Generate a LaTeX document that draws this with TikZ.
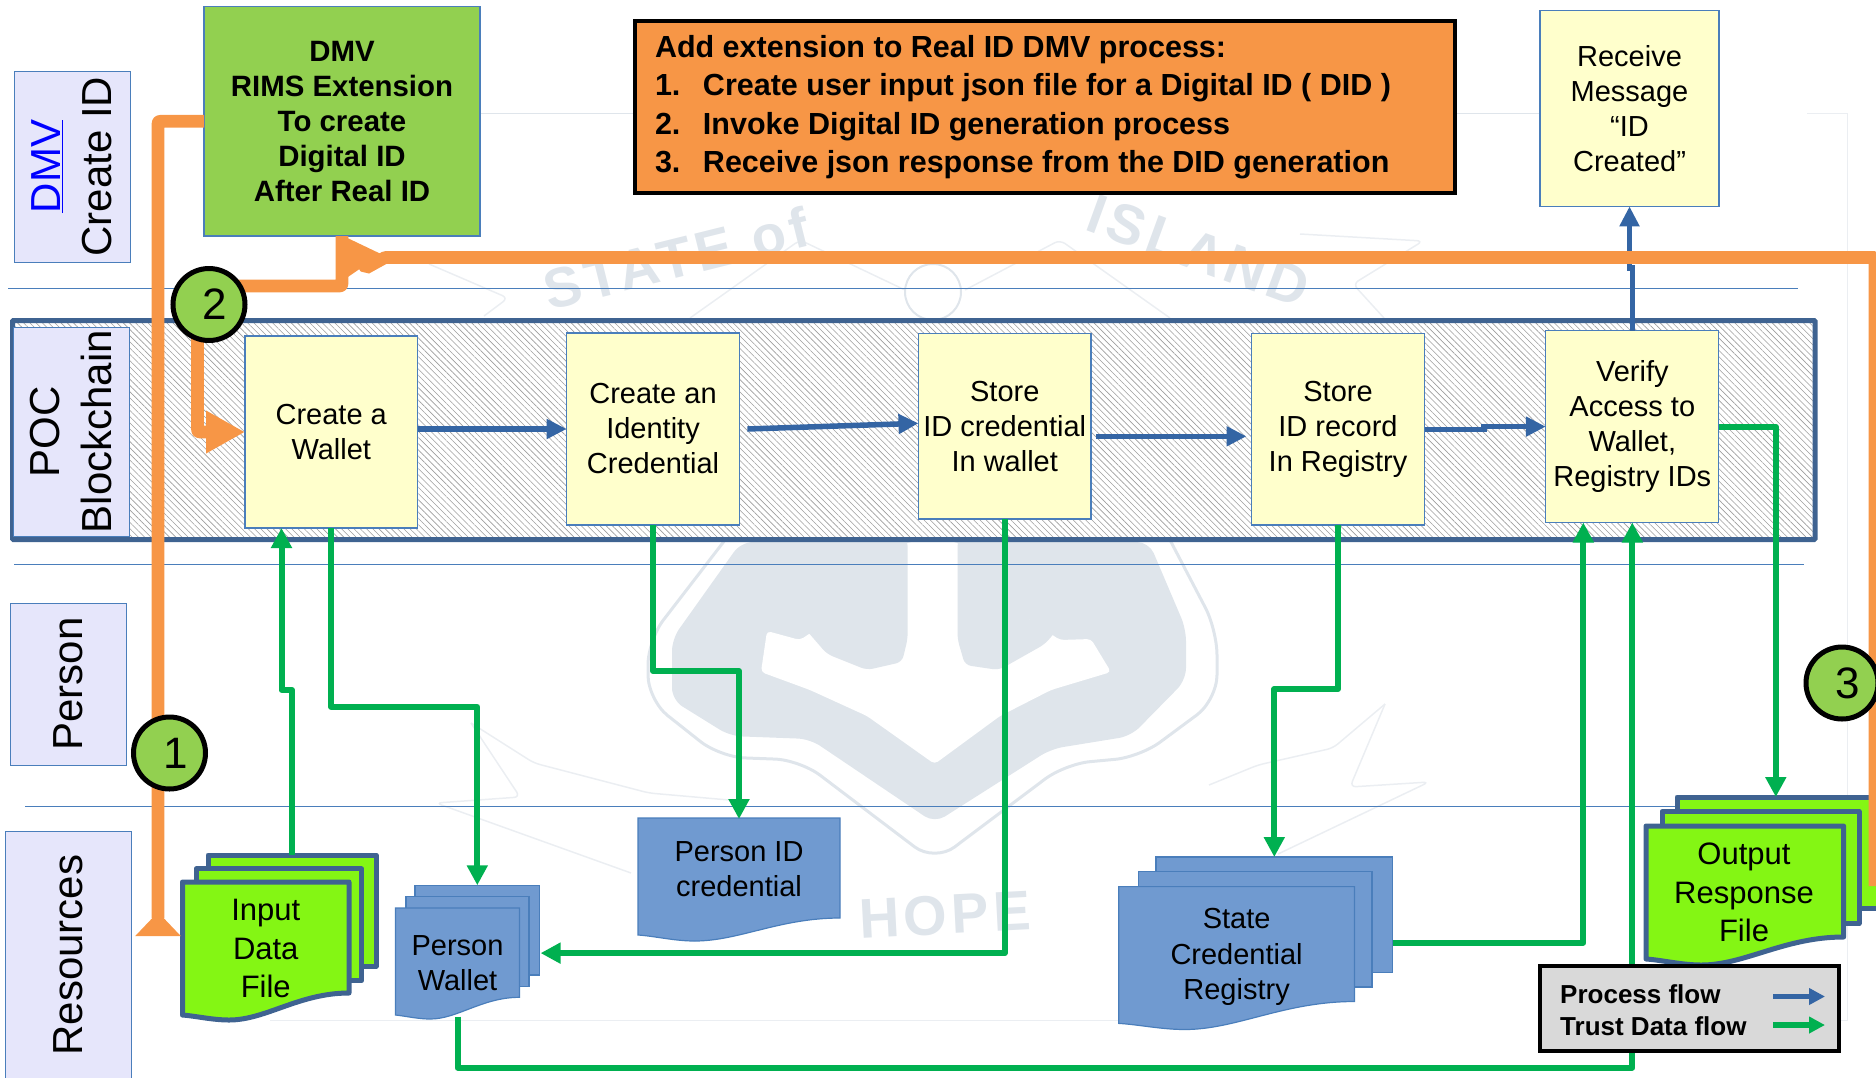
\documentclass[tikz,border=0pt]{standalone}
\usepackage{fontspec}
\setmainfont{Liberation Sans}
\newfontfamily\markfont[LetterSpace=8]{Liberation Sans}
\usetikzlibrary{arrows.meta}
\usetikzlibrary{patterns.meta}
\definecolor{lanefill}{HTML}{E6E6FB}
\definecolor{edgeblue}{HTML}{4A7EBB}
\definecolor{bandblue}{HTML}{3F6391}
\definecolor{flowblue}{HTML}{3465A4}
\definecolor{flowgreen}{HTML}{00B050}
\definecolor{floworange}{HTML}{F79646}
\definecolor{dmvgreen}{HTML}{92D050}
\definecolor{procyellow}{HTML}{FFFFCC}
\definecolor{pageblue}{HTML}{709AD0}
\definecolor{pagegreen}{HTML}{84F614}
\definecolor{markgray}{HTML}{DFE5EB}
\definecolor{markfaint}{HTML}{EBEEF2}
\tikzset{
  lanebox/.style={draw=edgeblue,fill=lanefill,line width=1pt,rotate=90,inner sep=0pt,align=center,
    font=\fontsize{42}{51.5}\selectfont},
  procbox/.style={draw=edgeblue,fill=procyellow,line width=1.2pt,inner sep=0pt,outer sep=0pt,align=center,
    font=\fontsize{29}{35}\selectfont},
  bluepage/.style={draw=edgeblue,fill=pageblue,line width=1.2pt,inner sep=0pt,outer sep=0pt},
  greenpage/.style={draw=bandblue,fill=pagegreen,line width=5pt,line join=round,inner sep=0pt,outer sep=0pt},
  pagelabel/.style={inner sep=0pt,outer sep=0pt,align=center,font=\fontsize{29}{35.5}\selectfont},
  greenlabel/.style={inner sep=0pt,outer sep=0pt,align=center,font=\fontsize{31}{38.5}\selectfont},
  processflow/.style={draw=flowblue,line width=5.5pt,-{Triangle[length=20pt,width=19pt]}},
  trustflow/.style={draw=flowgreen,line width=6pt,line join=round,-{Triangle[length=20pt,width=20pt]}},
  dmvflow/.style={draw=floworange,line width=12.6pt,line join=round},
  stepmark/.style={circle,draw=black,fill=dmvgreen,line width=5pt,minimum size=72pt,inner sep=0pt,
    font=\fontsize{44}{44}\selectfont},
  lanerule/.style={draw=edgeblue,line width=1pt},
  markline/.style={draw=markfaint,line width=1.5pt,rounded corners=6pt},
  markblob/.style={fill=markgray,rounded corners=12pt},
  marktext/.style={text=markgray,font=\markfont\bfseries\fontsize{56}{56}\selectfont},
}
\newcommand{\wavepage}[7]{
\pgfmathsetmacro{\wavew}{#4-#2}
\draw[#1] (#2,#3) -- (#4,#3) -- (#4,#5) .. controls ({#2+0.7*\wavew},#5) and ({#2+0.5*\wavew},#7) .. ({#2+0.28*\wavew},#7) .. controls ({#2+0.18*\wavew},#7) and ({#2+0.08*\wavew},#6+1) .. (#2,#6) -- cycle;
}
\newcommand{\numline}[2]{\makebox[48pt][l]{#1}#2}
\begin{document}
\begin{tikzpicture}[x=1pt,y=-1pt]
\useasboundingbox (0,0) rectangle (1876,1077);
% watermark behind everything
\draw[draw=markgray,line width=1.5pt] (480,113.6) -- (634,113.6);
\draw[draw=markgray,line width=1.5pt] (1454,113.6) -- (1540,113.6);
\draw[draw=markfaint,line width=1pt] (1807,113.6) -- (1847,113.6) -- (1847,1020) -- (1700,1020);
\draw[draw=markfaint,line width=1pt] (270,1020) -- (1120,1020);
\draw[markline] (429,264) -- (508,298) -- (484,316);
\draw[markline] (1300,234) -- (1423,241) -- (1353,284) -- (1384,318);
\draw[markline] (471,723) -- (520,797) -- (436,803) -- (631,873);
\draw[markline] (471,723) -- (534,763) -- (649,793) -- (729,800);
\draw[markline] (1385,704) -- (1350,787) -- (1429,782) -- (1278,854);
\draw[markline] (1385,704) -- (1333,748) -- (1258,765) -- (1209,785);
\draw[markline] (690,318) -- (800,240) -- (905,290);
\draw[markline] (965,290) -- (1060,240) -- (1170,318);
\draw[draw=markgray,line width=2pt] (933,292) circle (28);
\draw[draw=markgray,line width=3pt,rounded corners=25pt] (725,540) -- (648,640) -- (648,700) -- (720,757) -- (800,760) -- (934.6,862) -- (1065,764) -- (1140,757) -- (1217,700) -- (1217,630) -- (1170,540);
\fill[markblob] (741,542) -- (672,639) -- (672,700) -- (730,736) -- (810,739) -- (934.6,823) -- (1051,749) -- (1131,736) -- (1186,680) -- (1186,629) -- (1149,542) -- cycle;
\fill[white,rounded corners=4pt] (767,631) -- (761,672) -- (810,690) -- (867,716) -- (934.6,764) -- (1000,716) -- (1051,690) -- (1111,672) -- (1091,639) -- (1060,640) -- (1000,600) -- (957.5,542) -- (907.6,542) -- (860,600) -- (800,640) -- cycle;
\fill[markgray,rounded corners=6pt] (764,540) -- (787,583) -- (830,616) -- (801,624) -- (827,654) -- (867,670) -- (902,662) -- (907.6,639) -- (907.6,540) -- cycle;
\fill[markgray,rounded corners=6pt] (957.5,540) -- (957.5,639) -- (965,665) -- (999,670) -- (1045,644) -- (1062,624) -- (1025,619) -- (1074,588) -- (1097,540) -- cycle;
\node[marktext,rotate=14] (markstate) at (676,258) {STATE of};
\node[marktext,rotate=-20] (markisland) at (1199,251) {ISLAND};
\node[marktext,rotate=3] (markhope) at (945,915) {HOPE};
% lanes
\draw[lanerule] (8,288) -- (1798,288);
\draw[lanerule] (14,564) -- (1804,564);
\draw[lanerule] (25,806) -- (1680,806);
\node[lanebox,minimum width=191pt,minimum height=116pt] (dmvlane) at (72,166.5) {\textcolor{blue}{\underline{DMV}}\\Create ID};
\node[lanebox,minimum width=162pt,minimum height=116pt] (personlane) at (68,684) {Person};
\node[lanebox,minimum width=248pt,minimum height=126pt] (resourcelane) at (68,955) {Resources};
% blockchain band
\node[draw=bandblue,line width=5pt,preaction={fill=white},pattern={Lines[angle=-45,distance=4.4pt,line width=.6pt]},pattern color=black!38,minimum width=1802.5pt,minimum height=219pt,inner sep=0pt,rounded corners=1pt] (chainband) at (913.75,430) {};
\node[lanebox,minimum width=209pt,minimum height=116pt] (poclane) at (71,431.5) {POC\\Blockchain};
% boxes
\node[draw=edgeblue,fill=dmvgreen,line width=1.2pt,inner sep=0pt,outer sep=0pt,align=center,minimum width=276pt,minimum height=229.5pt,font=\bfseries\fontsize{29.4}{35}\selectfont] (dmvbox) at (342,121.25) {DMV\\RIMS Extension\\To create\\Digital ID\\After Real ID};
\node[draw=black,fill=floworange,line width=4pt,inner xsep=20pt,inner ysep=0pt,text width=780pt,minimum height=172pt,align=flush left,font=\bfseries\fontsize{30.5}{38.5}\selectfont] (extension) at (1045,107) {Add extension to Real ID DMV process:\\\numline{1.}{Create user input json file for a Digital ID ( DID )}\\\numline{2.}{Invoke Digital ID generation process}\\\numline{3.}{Receive json response from the DID generation}};
\node[procbox,minimum width=179pt,minimum height=195.7pt] (receive) at (1629.5,108.5) {Receive\\Message\\“ID\\Created”};
\node[procbox,minimum width=172.5pt,minimum height=192pt] (wallet) at (331.25,432) {Create a\\Wallet};
\node[procbox,minimum width=172.8pt,minimum height=192pt] (identcred) at (653,429) {Create an\\Identity\\Credential};
\node[procbox,minimum width=172.5pt,minimum height=185.4pt] (storecred) at (1004.75,426.3) {Store\\ID credential\\In wallet};
\node[procbox,minimum width=173pt,minimum height=191.4pt] (storerecord) at (1338,429.3) {Store\\ID record\\In Registry};
\node[procbox,minimum width=173pt,minimum height=191.8pt] (verify) at (1632.3,426.6) {Verify\\Access to\\Wallet,\\Registry IDs};
% files
\node[greenpage,minimum width=168pt,minimum height=111pt] (inputback) at (292,910.5) {};
\node[greenpage,minimum width=165.6pt,minimum height=111.7pt] (inputmiddle) at (278.8,924.8) {};
\wavepage{greenpage}{182.5}{882}{349}{993}{1015}{1020}
\node[greenlabel,minimum width=166.5pt,minimum height=133pt] (inputfile) at (265.75,948.5) {Input\\Data\\File};
\node[bluepage,minimum width=124.6pt,minimum height=89.7pt] (pwalletback) at (477.3,930.1) {};
\node[bluepage,minimum width=123pt,minimum height=90pt] (pwalletmiddle) at (467.5,941.7) {};
\wavepage{bluepage}{395.5}{908}{519.5}{997.3}{1015}{1019}
\node[pagelabel,minimum width=124pt,minimum height=107pt] (personwallet) at (457.5,963) {Person\\Wallet};
\wavepage{bluepage}{638}{818}{840}{918}{935}{941}
\node[pagelabel,minimum width=202pt,minimum height=100pt] (personid) at (739,869) {Person ID\\credential};
\node[bluepage,minimum width=236.6pt,minimum height=115.4pt] (stateback) at (1274.3,914.7) {};
\node[bluepage,minimum width=233.4pt,minimum height=115.2pt] (statemiddle) at (1255.3,929.4) {};
\wavepage{bluepage}{1118.8}{886.6}{1354.5}{1001.5}{1023.4}{1029.5}
\node[pagelabel,minimum width=235.7pt,minimum height=137pt] (statereg) at (1236.6,957) {State\\Credential\\Registry};
% process flow
\coordinate (recordbend) at (1484,429.3);
\coordinate (verifybend) at (1632.3,268);
\draw[processflow] ([yshift=3pt]wallet.east) -- (identcred.west);
\draw[processflow] ([xshift=8pt]identcred.east) -- ([yshift=3pt]storecred.west);
\draw[processflow] ([xshift=5pt,yshift=-10pt]storecred.east) -- ([xshift=-5pt,yshift=-7pt]storerecord.west);
\draw[processflow] (storerecord.east) -- (recordbend) |- (verify.west);
\draw[processflow] (verify.north) -- (verifybend) -| (receive.south);
% trust data flow
\coordinate (inputbend) at (281.5,690);
\coordinate (walletbend) at (477.3,706.7);
\coordinate (identbend) at (739,671);
\coordinate (recordjog) at (1274.3,689);
\coordinate (bottombend) at (1632.3,1067.7);
\draw[trustflow] (inputback.north) |- (inputbend) -- ([xshift=-49.75pt]wallet.south);
\draw[trustflow] (wallet.south) |- (walletbend) -- (pwalletback.north);
\draw[trustflow] (identcred.south) |- (identbend) -- (personid.north);
\draw[trustflow] (storecred.south) |- ([xshift=1pt,yshift=-23pt]pwalletback.east);
\draw[trustflow] (storerecord.south) |- (recordjog) -- (stateback.north);
\draw[trustflow] ([yshift=-28pt]stateback.east) -| ([xshift=-49pt]verify.south);
\draw[trustflow] (personwallet.south) |- (bottombend) -- (verify.south);
% output file and its arrow go on top of the band
\node[greenpage,minimum width=203pt,minimum height=111pt] (outputback) at (1778.5,852.5) {};
\draw[trustflow] (verify.east) -| ([xshift=-2.7pt]outputback.north);
\node[greenpage,minimum width=197pt,minimum height=112pt] (outputmiddle) at (1760.5,867.5) {};
% orange flow
\coordinate (inputtip) at (158,936);
\coordinate (rightedge) at (1875,886);
\coordinate (tipbend) at (385,257.5);
\coordinate (tipstart) at (366,268);
\draw[dmvflow,rounded corners=2pt,-{Triangle[reversed,length=24pt,width=44pt]}] (dmvbox.west) -| (inputtip);
\draw[dmvflow,rounded corners=2pt] ([yshift=18.5pt]209,304.5) -| (dmvbox.south);
\draw[dmvflow,rounded corners=2pt,-{Triangle[length=39pt,width=40pt]}] ([xshift=-11.5pt]209,304.5) |- (wallet.west);
\draw[dmvflow,line join=bevel,-{Triangle[length=36pt,width=38pt]}] (rightedge) |- (tipbend) -- (tipstart) -- ([xshift=2pt]dmvbox.south);
\wavepage{greenpage}{1646}{826}{1843.6}{937}{959}{965}
\node[greenlabel,minimum width=197.6pt,minimum height=133pt] (outputfile) at (1744,892.5) {Output\\Response\\File};
% numbered marks
\node[stepmark] (markone) at (169.5,753) {\hspace*{12pt}1};
\node[stepmark] (marktwo) at (209,304.5) {\hspace*{12pt}2};
\node[stepmark] (markthree) at (1842,683) {\hspace*{12pt}3};
% legend
\node[draw=black,fill=black!15,line width=4pt,minimum width=299.4pt,minimum height=85pt,inner sep=0pt] (legend) at (1689.3,1008.5) {};
\node[anchor=west,inner sep=0pt,font=\bfseries\fontsize{26}{26}\selectfont] (processlabel) at (1560,994) {Process flow};
\node[anchor=west,inner sep=0pt,font=\bfseries\fontsize{26}{26}\selectfont] (trustlabel) at (1560,1026) {Trust Data flow};
\coordinate (processfrom) at (1773,996.5);
\coordinate (processto) at (1825,996.5);
\coordinate (trustfrom) at (1773,1025);
\coordinate (trustto) at (1825,1025);
\draw[processflow,-{Triangle[length=16pt,width=16pt]}] (processfrom) -- (processto);
\draw[trustflow,-{Triangle[length=16pt,width=16pt]}] (trustfrom) -- (trustto);
\end{tikzpicture}
\end{document}
